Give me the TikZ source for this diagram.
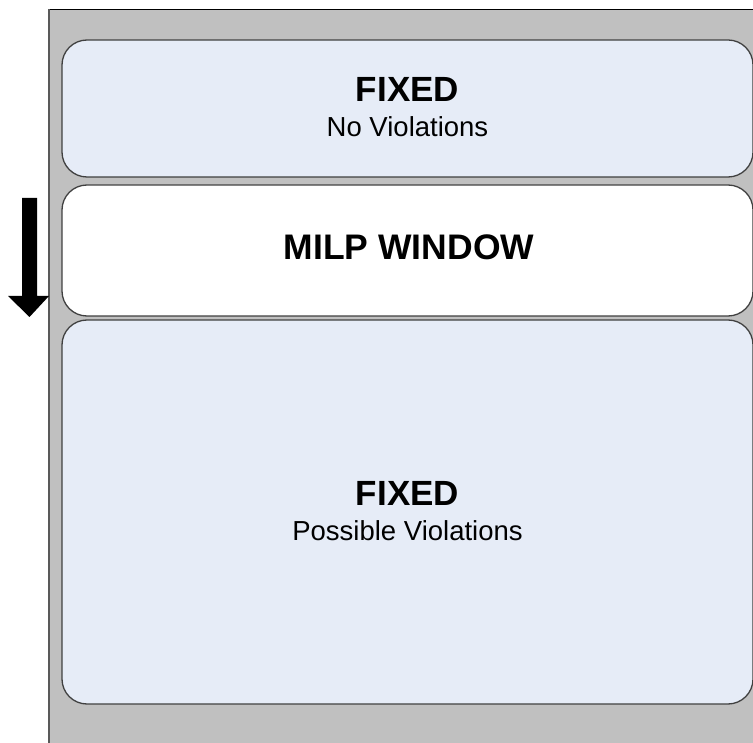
\documentclass[tikz,border=0pt]{standalone}
\usepackage{fontspec}
\setmainfont{Liberation Sans}
\definecolor{panelgray}{HTML}{C0C0C0}
\definecolor{paleblue}{HTML}{E6ECF7}
\definecolor{edgegray}{HTML}{404040}
\begin{document}
\begin{tikzpicture}[x=1pt,y=-1pt,
  box/.style={draw=edgegray, line width=1.3pt, rounded corners=25pt},
  title/.style={font=\fontsize{35}{40}\selectfont\bfseries, anchor=base, inner sep=0pt},
  bigtitle/.style={font=\fontsize{35.5}{40}\selectfont\bfseries, anchor=base, inner sep=0pt},
  subtitle/.style={font=\fontsize{27.5}{32}\selectfont, anchor=base, inner sep=0pt}]
  \useasboundingbox (0,0) rectangle (753,743);
  % grey frame behind the stacked regions
  \fill[panelgray] (49,10) rectangle (760,750);
  \draw[black, line width=1.5pt] (49,9.5) -- (760,9.5);
  \draw[gray!70!black, line width=2pt] (49,9.5) -- (49,750);
  % the three regions of the horizon
  \path[box, fill=paleblue] (62,40) rectangle (753,177);
  \path[box, fill=white] (62,185) rectangle (753,316);
  \path[box, fill=paleblue] (62,320) rectangle (753,704);
  % labels
  \node[title] (fixtop) at (407.5,102) {FIXED};
  \node[subtitle] (novio) at (407.5,137) {No Violations};
  \node[bigtitle] (milp) at (409,260) {MILP WINDOW};
  \node[title] (fixbot) at (407.5,505) {FIXED};
  \node[subtitle] (possvio) at (407.5,540) {Possible Violations};
  % window moves downward
  \fill[black] (22,198) -- (37,198) -- (37,296) -- (49,296) -- (29.5,317)
     -- (8,296) -- (22,296) -- cycle;
\end{tikzpicture}
\end{document}
